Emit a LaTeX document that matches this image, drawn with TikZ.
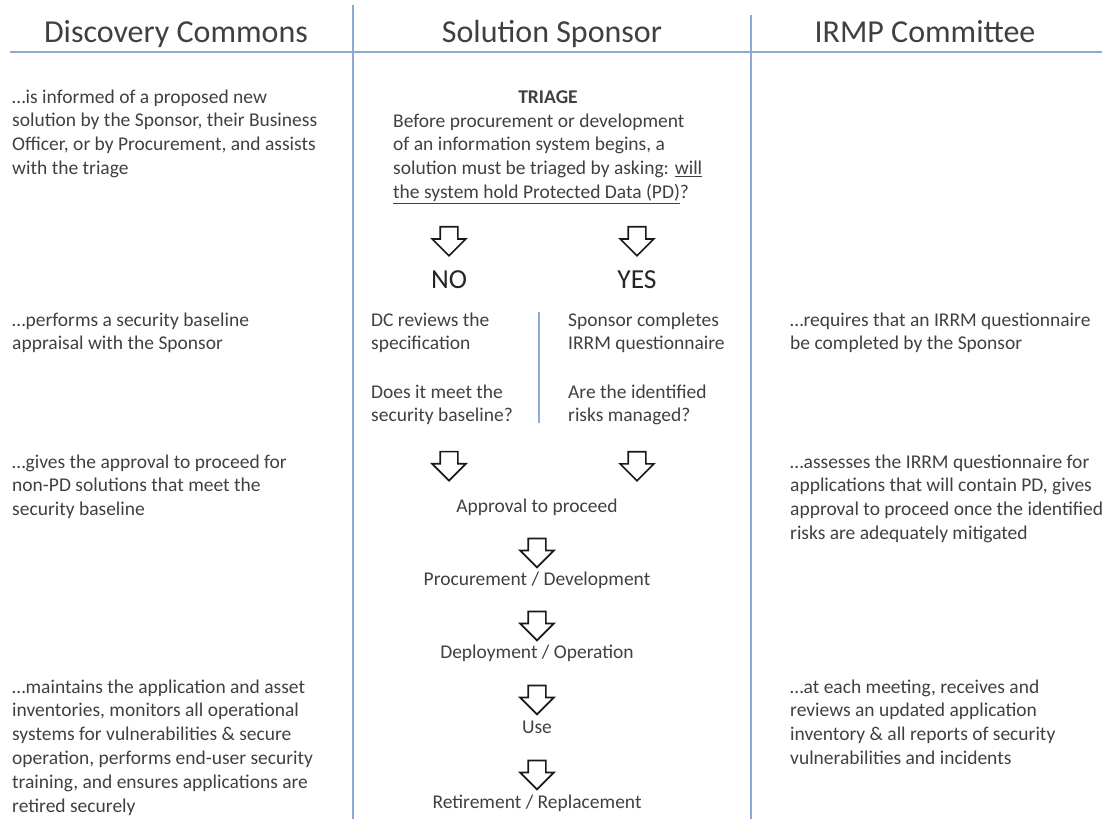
\documentclass[tikz,border=0pt]{standalone}
\usepackage{fontspec}
\setmainfont{Carlito}
\usepackage{tikz}
\usetikzlibrary{shapes}
\usetikzlibrary{shapes.arrows}
\usetikzlibrary{positioning}

\definecolor{lanecol}{RGB}{141,170,212}
\definecolor{txtcol}{RGB}{64,64,64}

\begin{document}
\begin{tikzpicture}[x=1pt,y=-1pt]
\tikzstyle{lane}=[draw=lanecol,line width=1.5pt]
\tikzstyle{header}=[inner sep=0pt,anchor=base,text=txtcol,font=\fontsize{32}{36}\selectfont]
\tikzstyle{para}=[inner sep=0pt,anchor=base west,align=left,text=txtcol,font=\fontsize{19.5}{23.8}\selectfont]
\tikzstyle{stage}=[inner sep=0pt,anchor=base,text=txtcol,font=\fontsize{19.5}{23.8}\selectfont]
\tikzstyle{answer}=[inner sep=0pt,anchor=base,text=black!85,font=\fontsize{27.5}{30}\selectfont]
\tikzstyle{blockarrow}=[single arrow,draw=black!90,line width=1.7pt,fill=white,shape border rotate=270,inner sep=8pt,minimum height=29pt,single arrow head extend=8pt,single arrow tip angle=90]
\useasboundingbox (0,0) rectangle (1102,819);
% swim lanes
\draw[lane] (10,52) -- (1102,52);
\draw[lane] (353,5) -- (353,819);
\draw[lane] (751,15) -- (751,819);
\node[header] (hdc) at (176,42) {Discovery Commons};
\node[header] (hss) at (552,42) {Solution Sponsor};
\node[header] (hirmp) at (925,42) {IRMP Committee};
% Discovery Commons (placed at the last baseline)
\node[para] (dc1) at (12,174.4) {…is informed of a proposed new\\solution by the Sponsor, their Business\\Officer, or by Procurement, and assists\\with the triage};
\node[para] (dc2) at (12,349.8) {…performs a security baseline\\appraisal with the Sponsor};
\node[para] (dc3) at (12,515.6) {…gives the approval to proceed for\\non-PD solutions that meet the\\security baseline};
\node[para] (dc4) at (12,812) {…maintains the application and asset\\inventories, monitors all operational\\systems for vulnerabilities \& secure\\operation, performs end-user security\\training, and ensures applications are\\retired securely};
% IRMP Committee
\node[para] (ir1) at (790,349.8) {…requires that an IRRM questionnaire\\be completed by the Sponsor};
\node[para] (ir2) at (790,539.4) {…assesses the IRRM questionnaire for\\applications that will contain PD, gives\\approval to proceed once the identified\\risks are adequately mitigated};
\node[para] (ir3) at (790,764.4) {…at each meeting, receives and\\reviews an updated application\\inventory \& all reports of security\\vulnerabilities and incidents};
% Solution Sponsor
\node[stage] (triage) at (548,103) {\textbf{TRIAGE}};
\node[para] (ask) at (393,198.4) {Before procurement or development\\of an information system begins, a\\solution must be triaged by asking: \underline{will}\\\underline{the system hold Protected Data (PD)}?};
\node[answer] (no) at (449,288) {NO};
\node[answer] (yes) at (637,288) {YES};
\node[para] (dcrev) at (371,349.8) {DC reviews the\\specification};
\node[para] (dcq) at (371,421.8) {Does it meet the\\security baseline?};
\node[para] (sprev) at (568,349.8) {Sponsor completes\\IRRM questionnaire};
\node[para] (spq) at (568,421.8) {Are the identified\\risks managed?};
\draw[lane] (539,312) -- (539,423);
\node[stage] (approve) at (537,512) {Approval to proceed};
\node[stage] (procure) at (537,585) {Procurement / Development};
\node[stage] (deploy) at (537,658) {Deployment / Operation};
\node[stage] (use) at (537,733) {Use};
\node[stage] (retire) at (537,808) {Retirement / Replacement};
% arrows
\path (no |- ask.south) -- node[blockarrow] {} (no.north);
\path (yes |- ask.south) -- node[blockarrow] {} (yes.north);
\path (dcq.south -| no) -- node[blockarrow] {} (approve.north -| no);
\path (spq.south -| yes) -- node[blockarrow] {} (approve.north -| yes);
\path (approve.base) -- node[blockarrow] {} (procure.base);
\path (procure.base) -- node[blockarrow] {} (deploy.base);
\path (deploy.base) -- node[blockarrow] {} (use.base);
\path (use.base) -- node[blockarrow] {} (retire.base);
\end{tikzpicture}
\end{document}
